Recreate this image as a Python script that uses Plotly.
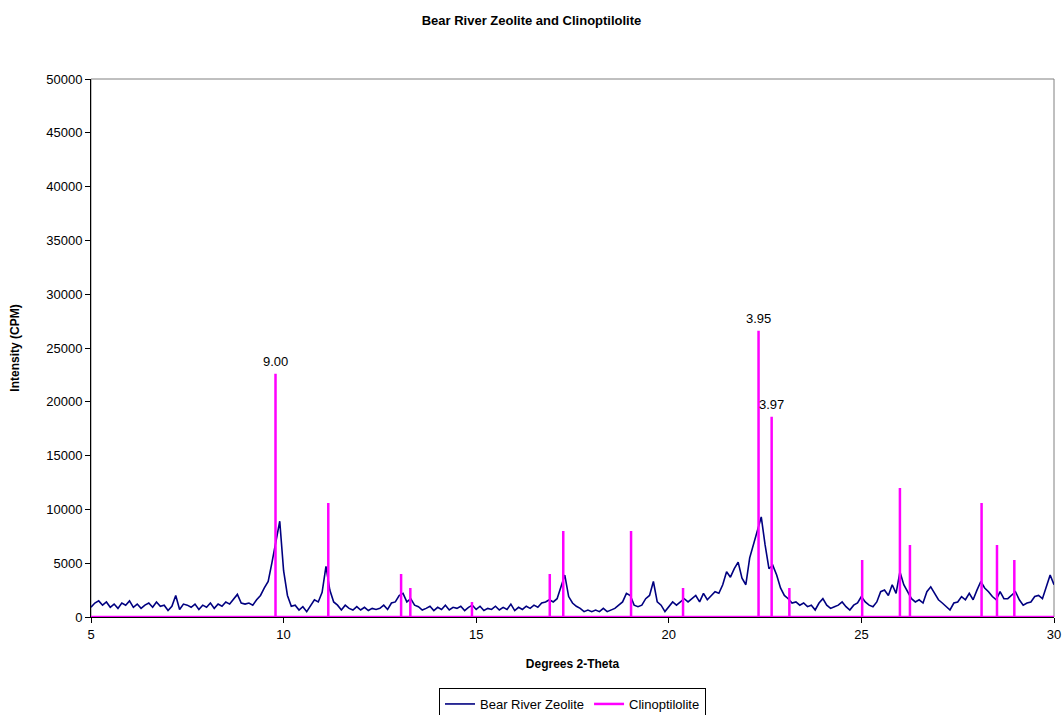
import plotly.graph_objects as go

scan_start = 5.0
scan_step = 0.1
zeolite_cpm = [
    900, 1300, 1500, 1100, 1400, 900, 1200, 800, 1300, 1100,
    1500, 900, 1200, 800, 1100, 1300, 900, 1400, 1000, 1100,
    600, 1000, 2000, 700, 1200, 1100, 900, 1200, 700, 1100,
    900, 1300, 800, 1200, 1000, 1400, 1200, 1700, 2100, 1300,
    1200,
    # 9.1 - 13.3
    1300, 1100, 1600, 2000, 2700, 3300, 5100, 6900, 8900, 4300,
    2000, 1000, 1100, 650, 960, 500, 1100, 1600, 1400, 2300,
    4700, 2500, 1400, 1100, 650, 1100, 800, 650, 960, 650,
    900, 600, 800, 700, 800, 1100, 700, 1300, 1400, 2000,
    2200, 1400, 1700,
    # 13.4 - 17.5
    1100, 960, 650, 800, 1000, 600, 900, 700, 1100, 650,
    900, 800, 1000, 600, 900, 1100, 700, 1000, 600, 800,
    700, 1000, 650, 900, 700, 1200, 600, 900, 700, 1000,
    800, 1100, 900, 1300, 1400, 1600, 1400, 1700, 2800, 3900,
    1900, 1300,
    # 17.6 - 21.7
    1000, 800, 500, 650, 500, 650, 500, 800, 500, 650,
    800, 1100, 1400, 2200, 2000, 1100, 960, 1100, 1700, 2000,
    3300, 1400, 1100, 500, 960, 1400, 1100, 1400, 1700, 1400,
    1700, 2000, 1400, 2200, 1600, 2000, 2350, 2200, 3000, 4200,
    3700, 4500,
    # 21.8 - 25.9
    5100, 3600, 3000, 5500, 6700, 7900, 9300, 6700, 4500, 4800,
    3900, 2700, 2000, 1700, 1300, 1400, 1100, 1300, 960, 1100,
    650, 1300, 1700, 1100, 800, 960, 1100, 1400, 960, 650,
    1100, 1300, 1900, 1400, 1100, 960, 1400, 2350, 2500, 2000,
    3000, 2200,
    # 26.0 - 30.0
    4200, 3000, 2350, 1700, 1400, 1600, 1300, 2350, 2800, 2200,
    1600, 1300, 960, 650, 1300, 1400, 1900, 1600, 2200, 1600,
    2500, 3300, 2700, 2350, 1900, 1600, 2350, 1700, 1700, 2000,
    2350, 1600, 1100, 1300, 1400, 1900, 2000, 1700, 2800, 3900,
    3000,
]
zeolite_theta = [round(scan_start + scan_step * i, 2) for i in range(len(zeolite_cpm))]

# Clinoptilolite reference stick pattern
clino_theta = [9.79, 11.16, 13.05, 13.29, 14.89, 16.91, 17.26, 19.02, 20.37,
               22.33, 22.67, 23.13, 25.02, 26.00, 26.26, 28.12, 28.52, 28.97]
clino_cpm = [22600, 10600, 4000, 2700, 1400, 4000, 8000, 8000, 2700,
             26600, 18600, 2700, 5300, 12000, 6700, 10600, 6700, 5300]

# Labelled d-spacings
label_theta = [9.79, 22.33, 22.67]
label_cpm = [22600, 26600, 18600]
label_text = ["9.00", "3.95", "3.97"]

x_min, x_max = 5, 30
y_min, y_max = 0, 50000

# build stick line (baseline at zero between sticks)
stick_x = [x_min]
stick_y = [0]
for t, h in zip(clino_theta, clino_cpm):
    stick_x += [t, t, t]
    stick_y += [0, h, 0]
stick_x.append(x_max)
stick_y.append(0)

font_family = "Arial, Liberation Sans, sans-serif"

fig = go.Figure()
fig.add_trace(go.Scatter(
    x=zeolite_theta, y=zeolite_cpm, mode="lines", name="Bear River Zeolite",
    line=dict(color="#000080", width=1.6),
))
fig.add_trace(go.Scatter(
    x=stick_x, y=stick_y, mode="lines", name="Clinoptilolite",
    line=dict(color="#FF00FF", width=2.5),
))

for t, h, s in zip(label_theta, label_cpm, label_text):
    fig.add_annotation(x=t, y=h, text=s, showarrow=False, yanchor="bottom",
                       yshift=3, font=dict(family=font_family, size=13, color="black"))

# gray frame on top/right
fig.add_shape(type="rect", xref="paper", yref="paper", x0=0, y0=0, x1=1, y1=1,
              line=dict(color="#808080", width=1), layer="below")

fig.update_layout(
    width=1063, height=715,
    paper_bgcolor="white", plot_bgcolor="white",
    margin=dict(l=91, r=9, t=79, b=98, autoexpand=False),
    font=dict(family=font_family, size=13, color="black"),
    title=dict(text="<b>Bear River Zeolite and Clinoptilolite</b>", x=0.5, xref="container",
               xanchor="center", y=1 - 20 / 715, yanchor="middle",
               font=dict(family=font_family, size=13, color="black")),
    showlegend=True,
    legend=dict(orientation="h", x=0.5, xanchor="center", y=-(688 - 617) / 538, yanchor="top",
                bordercolor="black", borderwidth=1, bgcolor="white",
                font=dict(family=font_family, size=13, color="black"),
                itemwidth=30, tracegroupgap=0),
)
fig.update_xaxes(
    range=[x_min, x_max], dtick=5, tick0=5, showgrid=False, zeroline=False,
    showline=True, linecolor="black", linewidth=1, automargin=False,
    ticks="outside", ticklen=5, tickcolor="black",
    title=dict(text="<b>Degrees 2-Theta</b>", standoff=19,
               font=dict(family=font_family, size=12, color="black")),
    tickfont=dict(family=font_family, size=13, color="black"),
)
fig.update_yaxes(
    range=[y_min, y_max], dtick=5000, tickformat="d", showgrid=False, zeroline=False,
    showline=True, linecolor="black", linewidth=1, automargin=False,
    ticks="outside", ticklen=5, tickcolor="black",
    title=dict(text="<b>Intensity (CPM)</b>", standoff=24,
               font=dict(family=font_family, size=12, color="black")),
    tickfont=dict(family=font_family, size=13, color="black"),
)

fig.write_html("out.html", config={"displayModeBar": False},
               post_script="document.body.style.margin='0';")
